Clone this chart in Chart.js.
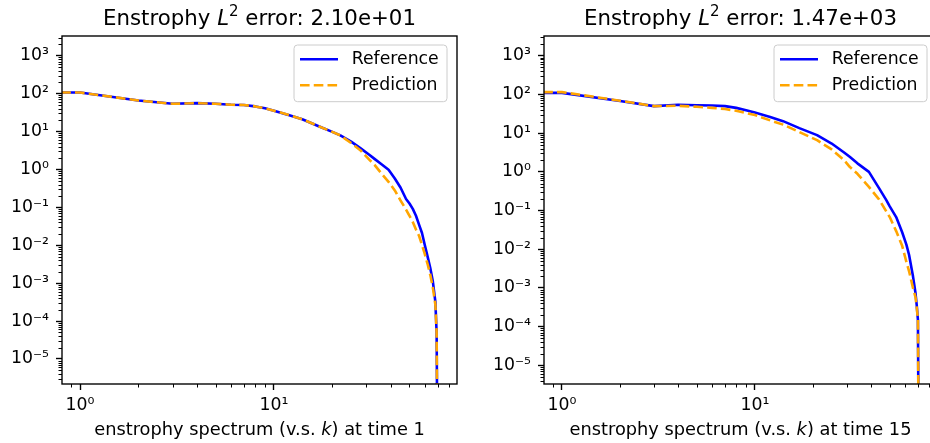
<!DOCTYPE html>
<html><head><meta charset="utf-8">
<script src="https://cdn.jsdelivr.net/npm/chart.js@4.4.0/dist/chart.umd.min.js"></script>
<style>
html,body{margin:0;padding:0;background:#fff;overflow:hidden;width:930px;height:443px;position:relative;}
#w1{position:absolute;left:0;top:0;width:470px;height:443px;}
#w2{position:absolute;left:482px;top:0;width:470px;height:443px;}
</style></head><body>
<div id="w1"><canvas id="c1" width="470" height="443"></canvas></div>
<div id="w2"><canvas id="c2" width="470" height="443"></canvas></div>
<script>
// ---- data ----
const kLeft = [0.8, 1, 2, 3, 4, 5, 6, 7, 8, 9, 10, 12, 14, 17, 20, 22, 25, 28, 31, 33, 36, 39, 42, 45, 48, 50, 52, 54, 56, 58, 60, 62, 64, 66, 68, 69, 70];
const referenceLeft = [107, 107, 66, 54, 56, 54, 51, 50, 46, 41, 35.5, 27, 21, 13.8, 9.8, 7.9, 5.4, 3.6, 2.45, 1.9, 1.35, 0.98, 0.575, 0.33, 0.166, 0.126, 0.091, 0.060, 0.035, 0.021, 0.010, 5.0e-3, 2.5e-3, 1.1e-3, 3.2e-4, 5.0e-5, 1e-9];
const predictionLeft = [107, 107, 66, 54, 56, 54, 51, 50, 46, 41, 35.5, 27, 21, 13.8, 9.8, 7.9, 5.0, 3.16, 1.82, 1.32, 0.76, 0.47, 0.28, 0.151, 0.087, 0.060, 0.041, 0.026, 0.0178, 0.0102, 5.8e-3, 3.2e-3, 1.66e-3, 7.6e-4, 2.7e-4, 5.0e-5, 1e-9];

const kRight = [0.8, 1, 2, 3, 4, 5, 6, 7, 8, 9, 10, 12, 14, 17, 21, 25, 29, 31, 34, 39, 44, 48, 50, 54, 58, 61, 63, 66, 68, 69, 70, 71];
const referenceRight = [110, 110, 68, 50, 54, 52.5, 52, 50, 45, 39, 34, 26.3, 20.4, 13.5, 8.9, 5.4, 3.16, 2.45, 1.66, 1.0, 0.38, 0.186, 0.129, 0.068, 0.0275, 0.0132, 7.1e-3, 2.0e-3, 7.4e-4, 3.6e-4, 1.5e-4, 1e-9];
const predictionRight = [115, 115, 69, 50, 51, 48, 45, 42, 38, 33, 29.5, 21.4, 16.6, 10.7, 6.6, 3.8, 2.0, 1.35, 0.89, 0.41, 0.195, 0.095, 0.068, 0.0295, 0.0123, 4.7e-3, 2.7e-3, 1.0e-3, 5.8e-4, 3.2e-4, 1.5e-4, 1e-9];

const xMajorTicks = [1, 10];
const yMajorTicks = [1e-5, 1e-4, 1e-3, 1e-2, 1e-1, 1, 10, 100, 1000];
const titleErrors = ['2.10e+01', '1.47e+03'];
const timeLabels = ['1', '15'];
const seriesNames = ['Reference', 'Prediction'];

// ---- styling ----
const FONT = '"DejaVu Sans", sans-serif';
const FS = 17.3;
const SUP = {'0':'\u2070','1':'\u00b9','2':'\u00b2','3':'\u00b3','4':'\u2074','5':'\u2075','6':'\u2076','7':'\u2077','8':'\u2078','9':'\u2079','-':'\u207b'};
function powLabel(v){ const e = Math.round(Math.log10(v)); return '10' + String(e).split('').map(c=>SUP[c]).join(''); }

function drawRich(ctx, parts, cx, baseline){
  let total = 0;
  parts.forEach(p => { ctx.font = (p.it?'italic ':'') + p.size + 'px ' + FONT; p.w = ctx.measureText(p.t).width; total += p.w; });
  let x = cx - total/2;
  ctx.textAlign = 'left'; ctx.textBaseline = 'alphabetic'; ctx.fillStyle = '#000';
  parts.forEach(p => { ctx.font = (p.it?'italic ':'') + p.size + 'px ' + FONT; ctx.fillText(p.t, x, baseline + (p.dy||0)); x += p.w; });
}

function makeChart(id, ks, ref, pred, yMin, yMax, err, time, padRight){
  const deco = {
    id: 'deco',
    afterDatasetsDraw(chart){
      const ctx = chart.ctx, a = chart.chartArea;
      const xs = chart.scales.x, ys = chart.scales.y;
      ctx.save();
      // minor ticks
      ctx.strokeStyle = '#000'; ctx.lineWidth = 1.0;
      ctx.beginPath();
      for (let n = -7; n <= 3; n++) for (let m = 2; m <= 9; m++){
        const v = m * Math.pow(10, n);
        if (v > yMin && v < yMax){ const py = Math.round(ys.getPixelForValue(v)) + 0.5; ctx.moveTo(a.left, py); ctx.lineTo(a.left - 3.5, py); }
      }
      for (let n = -1; n <= 1; n++) for (let m = 2; m <= 9; m++){
        const v = m * Math.pow(10, n);
        if (v > xs.min && v < xs.max){ const px = Math.round(xs.getPixelForValue(v)) + 0.5; ctx.moveTo(px, a.bottom); ctx.lineTo(px, a.bottom + 3.5); }
      }
      ctx.stroke();
      // spines
      ctx.lineWidth = 1.38; ctx.strokeStyle = '#000';
      ctx.strokeRect(a.left, a.top, a.right - a.left, a.bottom - a.top);
      // legend
      const bw = 153, bh = 56.7, bx = a.right - 10 - bw, by = 45;
      ctx.beginPath();
      ctx.roundRect(bx, by, bw, bh, 3.5);
      ctx.fillStyle = 'rgba(255,255,255,0.8)'; ctx.fill();
      ctx.lineWidth = 1; ctx.strokeStyle = '#cccccc'; ctx.stroke();
      const rows = [{c:'#0000ff', dash:[], y: by + 14.3}, {c:'#ffa500', dash:[9.6,4.15], y: by + 40.3}];
      rows.forEach((r, i) => {
        ctx.beginPath(); ctx.setLineDash(r.dash); ctx.lineWidth = 2.6; ctx.strokeStyle = r.c;
        ctx.moveTo(bx + 6, r.y); ctx.lineTo(bx + 44, r.y); ctx.stroke(); ctx.setLineDash([]);
        ctx.font = FS + 'px ' + FONT; ctx.fillStyle = '#000'; ctx.textAlign = 'left'; ctx.textBaseline = 'middle';
        ctx.fillText(seriesNames[i], bx + 57.7, r.y);
      });
      // title & x label
      const cx = (a.left + a.right) / 2;
      drawRich(ctx, [{t:'Enstrophy ', size:21.3}, {t:'L', it:true, size:21.3}, {t:'2', size:15, dy:-8.8}, {t:' error: ' + err, size:21.3}], cx, 25);
      drawRich(ctx, [{t:'enstrophy spectrum (v.s. ', size:17.8}, {t:'k', it:true, size:17.8}, {t:') at time ' + time, size:17.8}], cx, 435);
      ctx.restore();
    }
  };
  return new Chart(document.getElementById(id), {
    type: 'line',
    data: { datasets: [
      { label: seriesNames[0], data: ks.map((k,i)=>({x:k, y:ref[i]})), borderColor:'#0000ff', borderWidth:2.6, pointRadius:0, tension:0, fill:false, borderJoinStyle:'round', order:1 },
      { label: seriesNames[1], data: ks.map((k,i)=>({x:k, y:pred[i]})), borderColor:'#ffa500', borderWidth:2.6, borderDash:[9.6,4.15], pointRadius:0, tension:0, fill:false, borderJoinStyle:'round', order:0 }
    ]},
    options: {
      responsive:false, animation:false, devicePixelRatio:1,
      layout:{ padding:{ top:36, right:padRight, left:0, bottom:0 } },
      plugins:{ legend:{display:false}, tooltip:{enabled:false}, title:{display:false} },
      scales:{
        x:{ type:'logarithmic', position:'bottom', min:0.807, max:87.9,
          grid:{ display:true, drawOnChartArea:false, drawTicks:true, tickLength:6, tickWidth:1.38, tickColor:'#000' },
          border:{ display:false },
          ticks:{ font:{family:FONT, size:FS}, color:'#000', padding:5, maxRotation:0, autoSkip:false, callback:(v)=>powLabel(v) },
          afterBuildTicks:(s)=>{ s.ticks = xMajorTicks.map(v=>({value:v})); },
          afterFit:(s)=>{ s.height = 59; }
        },
        y:{ type:'logarithmic', position:'left', min:yMin, max:yMax,
          grid:{ display:true, drawOnChartArea:false, drawTicks:true, tickLength:6, tickWidth:1.38, tickColor:'#000' },
          border:{ display:false },
          ticks:{ font:{family:FONT, size:FS}, color:'#000', padding:7, autoSkip:false, callback:(v)=>powLabel(v) },
          afterBuildTicks:(s)=>{ s.ticks = yMajorTicks.map(v=>({value:v})); },
          afterFit:(s)=>{ s.width = 62; }
        }
      }
    },
    plugins:[deco]
  });
}

makeChart('c1', kLeft, referenceLeft, predictionLeft, 2.19e-6, 3311, titleErrors[0], timeLabels[0], 13);
makeChart('c2', kRight, referenceRight, predictionRight, 3.31e-6, 3236, titleErrors[1], timeLabels[1], 15);
</script>
</body></html>
